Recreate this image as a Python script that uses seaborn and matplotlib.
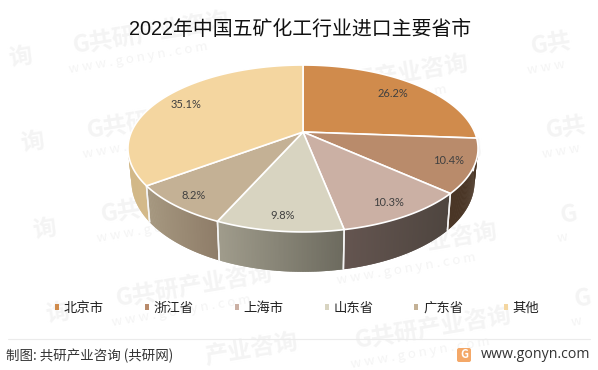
import numpy as np
import matplotlib
matplotlib.use('Agg')
import matplotlib.pyplot as plt
import seaborn as sns
from matplotlib.colors import to_rgb
from matplotlib.patches import Patch, FancyBboxPatch

names = ['北京市', '浙江省', '上海市', '山东省', '广东省', '其他']
values = [26.2, 10.4, 10.3, 9.8, 8.2, 35.1]
top_colors = ['#D08B4C', '#B98B6B', '#CBB0A4', '#D8D4C1', '#C4B195', '#F4D6A0']
# wall colour at left and right end of each slice
wall_left = ['#4A3626', '#4A3626', '#645550', '#A09C8C', '#A69880', '#D2B888']
wall_right = ['#4A3626', '#4A3626', '#4E453F', '#6C6A5E', '#8E7C68', '#DEC294']
label_r = [0.79, 0.86, 0.86, 0.87, 0.875, 0.82]

title = '2022年中国五矿化工行业进口主要省市'
source = '制图: 共研产业咨询 (共研网)'
site = 'www.gonyn.com'
mark = 'G共研产业咨询'
mark_site = 'w w w . g o n y n . c o m'

cx, cy = 303, 132
a, b, k = 171.6, 80.2, 0.1975
wall_h, wall_shrink = 32, 0.98
cjk = ['Noto Sans CJK SC', 'DejaVu Sans']


def project(x, y):
    d = 1 + k * y
    return cx + a * x / d, cy - b * y / d


def project_low(x, y):
    d = 1 + k * y
    return cx + wall_shrink * a * x / d, cy - b * y / d + wall_h / d


sns.set_theme(style='white')
plt.rcParams['font.family'] = cjk

fig, ax = plt.subplots(figsize=(5.98, 3.70), dpi=100)
fig.subplots_adjust(0, 0, 1, 1)

wedges, _, pcts = ax.pie(values, colors=top_colors, startangle=90, counterclock=False,
                         autopct='%.1f%%', textprops={'fontsize': 8, 'color': '#404040',
                                                      'family': ['Lato', 'DejaVu Sans']})
ax.set_aspect('auto')
ax.set_xlim(0, 598)
ax.set_ylim(370, 0)
ax.axis('off')


# watermark, anchored on the G of each copy
def stamp(x, y, txt=mark, sub=mark_site):
    ax.text(x, y, txt, color='#F4F4F4', fontsize=17, fontweight='bold', rotation=9.5,
            rotation_mode='anchor', ha='left', va='center', zorder=0)
    if sub:
        ax.text(x - 4, y + 23, sub, color='#F4F4F4', fontsize=9.5, rotation=9.5,
                rotation_mode='anchor', ha='left', va='center', zorder=0)


for x, y in [(73, 47), (87, 132), (101, 216), (116, 300), (312, 90), (326, 174), (341, 258), (355, 342)]:
    stamp(x, y)
for x, y in [(531, 48), (546, 132), (561, 216), (575, 300)]:
    stamp(x, y, 'G共'[:2 if x < 560 else 1], 'w w w'[:5 if x < 560 else 1])
stamp(205, 358, '产业咨询', '')
for x, y in [(-2, 60), (10, 145), (22, 232), (35, 316)]:
    ax.text(x + 22, y - 3, '询', color='#F4F4F4', fontsize=17, fontweight='bold', rotation=9.5,
            ha='center', va='center', zorder=0)

# walls then top faces
for n, w in enumerate(wedges):
    w.set_visible(False)
    th = np.radians(np.linspace(w.theta1, w.theta2, 80))
    xs, ys = np.cos(th), np.sin(th)
    tx, ty = project(xs, ys)
    lx, ly = project_low(xs, ys)
    c1, c2 = np.array(to_rgb(wall_left[n])), np.array(to_rgb(wall_right[n]))
    span = max(tx.max() - tx.min(), 1)
    for i in range(len(th) - 1):
        if ys[i] > 0.15 and ys[i + 1] > 0.15:
            continue
        f = (tx[i] - tx.min()) / span
        col = c1 + (c2 - c1) * f
        e = min(i + 2, len(th) - 1)
        ax.fill([tx[i], tx[e], lx[e], lx[i]], [ty[i], ty[e], ly[e], ly[i]],
                facecolor=col, edgecolor='none', zorder=2)
    for i in (0, -1):
        if ys[i] < 0:
            ax.plot([tx[i], lx[i]], [ty[i], ly[i]], color='#F4F4F4', lw=1.1, zorder=3)

for n, w in enumerate(wedges):
    th = np.radians(np.linspace(w.theta1, w.theta2, 80))
    tx, ty = project(np.cos(th), np.sin(th))
    ax.fill(np.r_[cx, tx], np.r_[cy, ty], facecolor=top_colors[n], edgecolor='white', lw=1.2,
            joinstyle='round', zorder=4)
    mid = np.radians((w.theta1 + w.theta2) / 2)
    px, py = project(label_r[n] * np.cos(mid), label_r[n] * np.sin(mid))
    pcts[n].set_position((px, py))
    pcts[n].set_zorder(5)

fig.text(300 / 598, 1 - 29 / 370, title, ha='center', va='center', fontsize=14.3, color='#111111',
         family=['Liberation Sans', 'Noto Sans CJK SC'])

handles = [Patch(facecolor=c, edgecolor='none') for c in top_colors]
ax.legend(handles, names, ncol=6, loc='center left', bbox_to_anchor=(55 / 598, 1 - 308 / 370),
          frameon=False, fontsize=9.6, handlelength=0.3, handleheight=0.3, handletextpad=0.34,
          columnspacing=3.09, labelcolor='#222222', borderpad=0, borderaxespad=0)

ax.plot([8, 590], [339, 339], color='#EBEBEB', lw=0.8, zorder=1)
ax.text(6, 356, source, ha='left', va='center', fontsize=9.7, color='#333333')
ax.text(590.5, 354.5, site, ha='right', va='center', fontsize=10.2, color='#333333',
        family=['Open Sans', 'DejaVu Sans'])
ax.add_patch(FancyBboxPatch((458, 349), 12, 12, boxstyle='round,pad=1,rounding_size=2',
                            facecolor='#F4A868', edgecolor='none', zorder=3))
ax.text(464, 355, 'G', color='white', fontsize=8, fontweight='bold', ha='center', va='center', zorder=4)

fig.savefig('out.png', dpi=100)
